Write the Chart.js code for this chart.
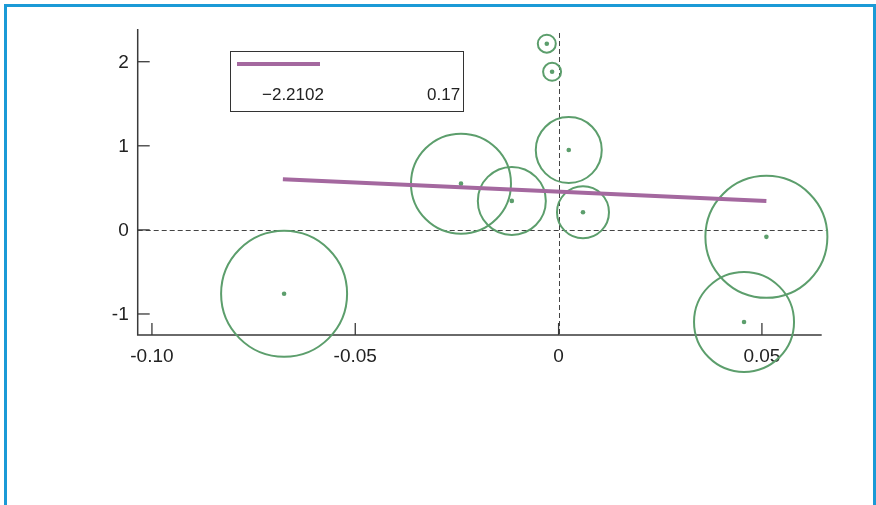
<!DOCTYPE html>
<html>
<head>
<meta charset="utf-8">
<script src="https://cdn.jsdelivr.net/npm/chart.js@4/dist/chart.umd.min.js"></script>
<style>
  html, body { margin: 0; padding: 0; background: #ffffff; }
  #wrap { position: relative; width: 876px; height: 505px; overflow: hidden; }
  #frame { position: absolute; left: 4px; top: 4px; width: 872px; height: 530px; box-sizing: border-box; border: 3px solid #1b9ad6; pointer-events: none; }
  canvas { position: absolute; left: 0; top: 0; }
</style>
</head>
<body>
<div id="wrap">
  <canvas id="c" width="876" height="505"></canvas>
  <div id="frame"></div>
</div>
<script>
// ---- data ----
const bubbleX = [-0.0675, -0.0240, -0.0115, -0.0029, -0.0016, 0.0025, 0.0060, 0.0511, 0.0456];
const bubbleY = [-0.76, 0.55, 0.345, 2.214, 1.88, 0.95, 0.21, -0.083, -1.095];
const bubbleR = [63, 50, 34, 9, 9, 33, 26, 61, 50];
const fitX = [-0.0678, 0.0511];
const fitY = [0.602, 0.344];
const xTicks = [-0.10, -0.05, 0, 0.05];
const xTickLabels = ['-0.10', '-0.05', '0', '0.05'];
const yTicks = [2, 1, 0, -1];
const yTickLabels = ['2', '1', '0', '-1'];
const legendValues = ['−2.2102', '0.17'];

const GREEN = '#5c9e6c';
const PURPLE = '#a4689f';
const AXIS = '#3a3a3a';
const FONT = '"Liberation Sans", Arial, sans-serif';

const bubblePts = bubbleX.map((x, i) => ({ x: x, y: bubbleY[i], r: bubbleR[i] }));
const dotPts = bubbleX.map((x, i) => ({ x: x, y: bubbleY[i] }));
const fitPts = fitX.map((x, i) => ({ x: x, y: fitY[i] }));

const decor = {
  id: 'decor',
  beforeDatasetsDraw(chart) {
    const ctx = chart.ctx;
    const xs = chart.scales.x, ys = chart.scales.y;
    const a = chart.chartArea;
    ctx.save();
    // dashed zero lines
    ctx.strokeStyle = '#444';
    ctx.lineWidth = 1;
    ctx.setLineDash([5, 3]);
    const y0 = Math.round(ys.getPixelForValue(0)) + 0.5;
    ctx.beginPath(); ctx.moveTo(a.left, y0); ctx.lineTo(a.right + 6, y0); ctx.stroke();
    const x0 = Math.round(xs.getPixelForValue(0)) + 0.5;
    ctx.beginPath(); ctx.moveTo(x0, a.top + 4); ctx.lineTo(x0, a.bottom); ctx.stroke();
    ctx.setLineDash([]);
    // axes
    ctx.strokeStyle = AXIS;
    ctx.lineWidth = 1.5;
    ctx.beginPath();
    ctx.moveTo(a.left, a.top); ctx.lineTo(a.left, a.bottom); ctx.lineTo(a.right, a.bottom);
    ctx.stroke();
    // inward ticks
    ctx.lineWidth = 1.3;
    yTicks.forEach(v => {
      const p = ys.getPixelForValue(v);
      ctx.beginPath(); ctx.moveTo(a.left, p); ctx.lineTo(a.left + 12, p); ctx.stroke();
    });
    xTicks.forEach(v => {
      const p = xs.getPixelForValue(v);
      ctx.beginPath(); ctx.moveTo(p, a.bottom); ctx.lineTo(p, a.bottom - 12); ctx.stroke();
    });
    // tick labels
    ctx.fillStyle = '#222';
    ctx.font = '19px ' + FONT;
    ctx.textBaseline = 'middle';
    ctx.textAlign = 'right';
    yTicks.forEach((v, i) => {
      ctx.fillText(yTickLabels[i], a.left - 9, ys.getPixelForValue(v) + 1);
    });
    ctx.textAlign = 'center';
    xTicks.forEach((v, i) => {
      ctx.fillText(xTickLabels[i], xs.getPixelForValue(v), a.bottom + 22);
    });
    ctx.restore();
  },
  afterDraw(chart) {
    const ctx = chart.ctx;
    ctx.save();
    // legend box
    ctx.fillStyle = '#ffffff';
    ctx.fillRect(230.5, 51.5, 233, 60);
    ctx.strokeStyle = '#333';
    ctx.lineWidth = 1;
    ctx.strokeRect(230.5, 51.5, 233, 60);
    ctx.strokeStyle = PURPLE;
    ctx.lineWidth = 4;
    ctx.beginPath(); ctx.moveTo(237, 64); ctx.lineTo(320, 64); ctx.stroke();
    ctx.fillStyle = '#222';
    ctx.font = '17px ' + FONT;
    ctx.textBaseline = 'middle';
    ctx.textAlign = 'left';
    ctx.fillText(legendValues[0], 262, 95);
    ctx.fillText(legendValues[1], 427, 95);
    ctx.restore();
  }
};

new Chart(document.getElementById('c'), {
  type: 'bubble',
  data: {
    datasets: [
      {
        label: 'bubbles',
        data: bubblePts,
        backgroundColor: 'rgba(0,0,0,0)',
        borderColor: GREEN,
        borderWidth: 2,
        hoverRadius: 0,
        clip: false,
        order: 3
      },
      {
        type: 'scatter',
        label: 'centres',
        data: dotPts,
        pointRadius: 2.3,
        pointBackgroundColor: GREEN,
        pointBorderWidth: 0,
        clip: false,
        order: 2
      },
      {
        type: 'scatter',
        label: 'fit',
        data: fitPts,
        showLine: true,
        borderColor: PURPLE,
        borderWidth: 4,
        pointRadius: 0,
        clip: false,
        order: 1
      }
    ]
  },
  options: {
    responsive: false,
    animation: false,
    devicePixelRatio: 1,
    layout: { autoPadding: false, padding: { left: 137.7, right: 54.3, top: 29, bottom: 170 } },
    plugins: { legend: { display: false }, tooltip: { enabled: false } },
    scales: {
      x: { type: 'linear', min: -0.1035, max: 0.0647, display: false },
      y: { type: 'linear', min: -1.25, max: 2.389, display: false }
    }
  },
  plugins: [decor]
});
</script>
</body>
</html>
